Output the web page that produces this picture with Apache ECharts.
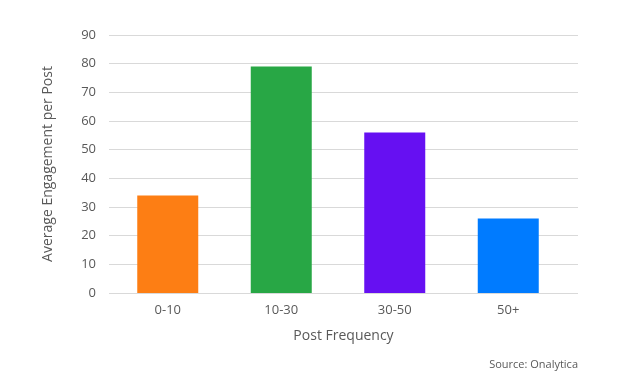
<!DOCTYPE html>
<html>
<head>
<meta charset="utf-8">
<script src="https://cdn.jsdelivr.net/npm/echarts@6/dist/echarts.min.js"></script>
<style>
html,body{margin:0;padding:0;background:#fff;}
#chart{width:625px;height:385px;}
</style>
</head>
<body>
<div id="chart"></div>
<script>
const categories = ['0-10', '10-30', '30-50', '50+'];
const engagement = [34, 79, 56, 26];
const barColors = ['#FD7E14', '#28A745', '#6610F2', '#007BFF'];
const yTitle = 'Average Engagement per Post';
const xTitle = 'Post Frequency';
const sourceText = 'Source: Onalytica';

const font = '"Open Sans", "Noto Sans", sans-serif';
const textColor = '#595959';

const chart = echarts.init(document.getElementById('chart'), null, {renderer: 'canvas'});
chart.setOption({
  animation: false,
  backgroundColor: '#ffffff',
  grid: [
    {left: 109, right: 47, top: 35, bottom: 92},
    {left: 111, right: 60, top: 35, bottom: 92}
  ],
  xAxis: [
    {
      gridIndex: 0, type: 'category', data: categories,
      axisLine: {show: false}, axisTick: {show: false}, axisLabel: {show: false},
      name: xTitle, nameLocation: 'middle', nameGap: 36,
      nameTextStyle: {fontFamily: font, fontSize: 14, color: textColor}
    },
    {
      gridIndex: 1, type: 'category', data: categories,
      axisLine: {show: false}, axisTick: {show: false},
      axisLabel: {fontFamily: font, fontSize: 13, color: textColor, margin: 11}
    }
  ],
  yAxis: [
    {
      gridIndex: 0, type: 'value', min: 0, max: 90, interval: 10,
      axisLine: {show: false}, axisTick: {show: false},
      axisLabel: {fontFamily: font, fontSize: 13, color: textColor, margin: 13},
      splitLine: {lineStyle: {color: '#D9D9D9', width: 1}},
      name: yTitle, nameLocation: 'middle', nameGap: 54, nameRotate: 90,
      nameTextStyle: {fontFamily: font, fontSize: 14, color: textColor}
    },
    {
      gridIndex: 1, type: 'value', min: 0, max: 90, interval: 10,
      show: false
    }
  ],
  series: [{
    type: 'bar',
    xAxisIndex: 1, yAxisIndex: 1,
    barWidth: 61,
    data: engagement.map((v, i) => ({value: v, itemStyle: {color: barColors[i]}}))
  }],
  graphic: [{
    type: 'text', right: 47, top: 359,
    style: {text: sourceText, fontFamily: font, fontSize: 11, fill: textColor}
  }]
});
</script>
</body>
</html>
